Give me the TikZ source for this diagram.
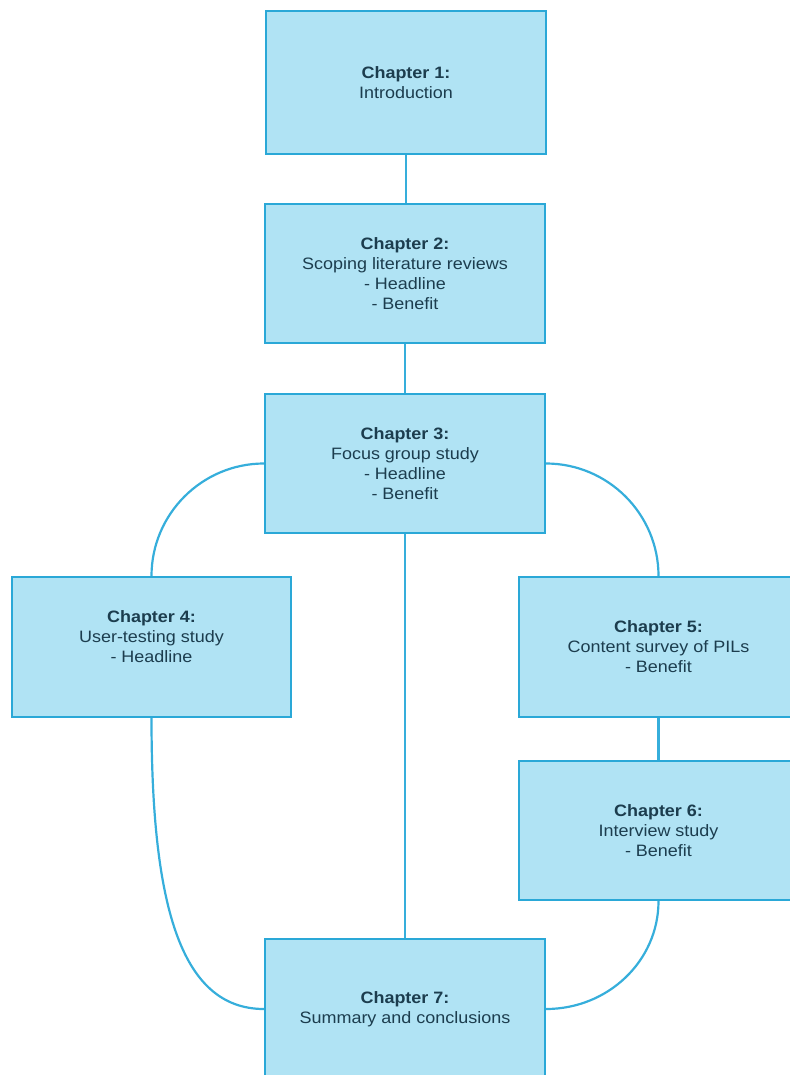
\documentclass[tikz,border=0pt]{standalone}
\usepackage{fontspec}
\setmainfont{Liberation Sans}[FakeStretch=1.09]
\definecolor{boxfill}{HTML}{B0E3F4}
\definecolor{boxline}{HTML}{2AA8D7}
\definecolor{edgeline}{HTML}{36AEDB}
\definecolor{txt}{HTML}{1C3D4E}
\begin{document}
\begin{tikzpicture}[x=1pt,y=-1pt,
  chapbox/.style={draw=boxline, fill=boxfill, line width=2pt, rectangle,
    minimum width=280pt, minimum height=140pt, inner sep=0pt,
    align=center, text=txt, font=\fontsize{16.5}{20}\selectfont},
  edge/.style={draw=edgeline, line width=2.2pt}]
\useasboundingbox (0,0) rectangle (789,1075);
\node[chapbox, minimum height=143pt] (b1) at (406,82.5) {\textbf{Chapter 1:}\\Introduction};
\node[chapbox, minimum height=139pt] (b2) at (405,273.5) {\textbf{Chapter 2:}\\Scoping literature reviews\\- Headline\\- Benefit};
\node[chapbox, minimum height=139pt] (b3) at (405,463.5) {\textbf{Chapter 3:}\\Focus group study\\- Headline\\- Benefit};
\node[chapbox, minimum width=279pt] (b4) at (151.5,647) {};
\node[align=center, text=txt, font=\fontsize{16.5}{20}\selectfont] (t4) at (151.5,637) {\textbf{Chapter 4:}\\User-testing study\\- Headline};
\node[chapbox, minimum width=279pt] (b5) at (658.5,647) {\textbf{Chapter 5:}\\Content survey of PILs\\- Benefit};
\node[chapbox, minimum width=279pt, minimum height=139pt] (b6) at (658.5,830.5) {\textbf{Chapter 6:}\\Interview study\\- Benefit};
\node[chapbox] (b7) at (405,1009) {\textbf{Chapter 7:}\\Summary and conclusions};
\draw[edge] (b1.south) -- (b1.south |- b2.north);
\draw[edge] (b2.south) -- (b3.north);
\draw[edge] (b3.south) -- (b7.north);
\draw[edge] (b5.south) -- (b6.north);
\draw[edge] (b3.west) .. controls +(-62,0) and +(0,-62) .. (b4.north);
\draw[edge] (b3.east) .. controls +(62,0) and +(0,-62) .. (b5.north);
\draw[edge] (b4.south) .. controls +(0,183) and +(-85,0) .. (b7.west);
\draw[edge] (b6.south) .. controls +(0,60) and +(62,0) .. (b7.east);
\end{tikzpicture}
\end{document}
